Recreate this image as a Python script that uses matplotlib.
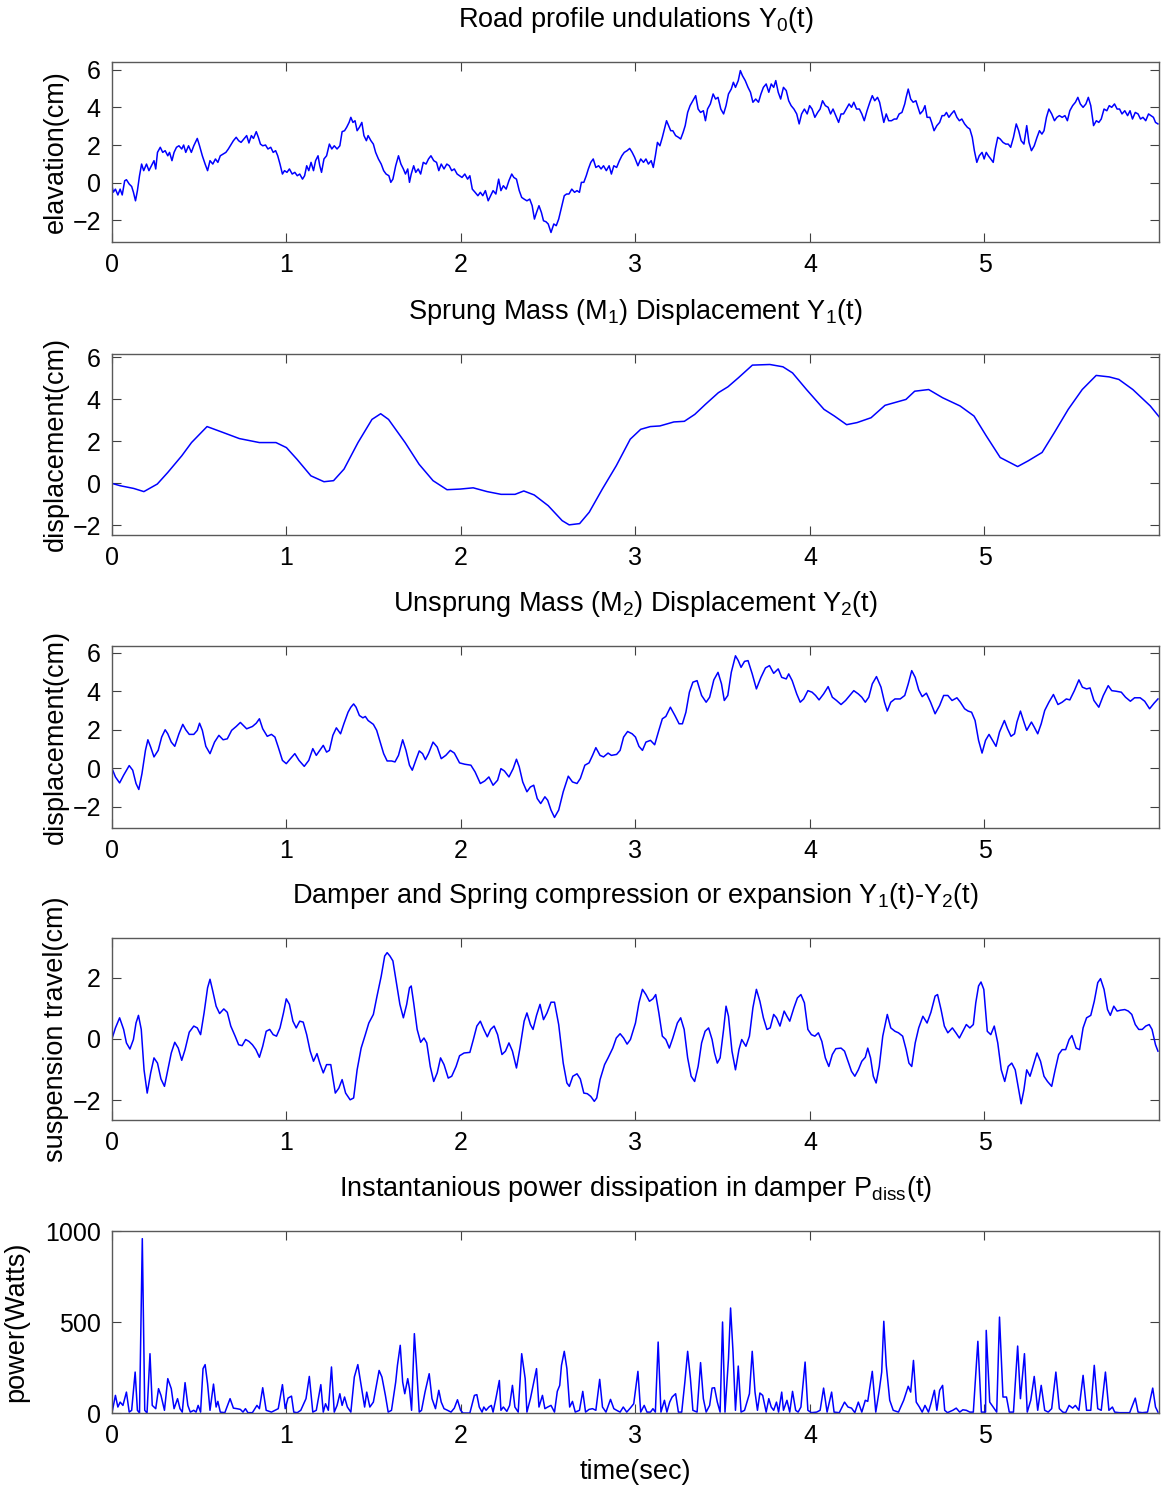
import matplotlib
matplotlib.use('Agg')
import matplotlib.pyplot as plt

# ---- data (time in s) ----
road = [(0.000,-0.16),(0.008,-0.50),(0.020,-0.34),(0.034,-0.65),(0.047,-0.34),(0.059,-0.65),(0.073,0.10),(0.083,0.16),(0.099,-0.07),(0.113,-0.20),
        (0.123,-0.50),(0.135,-0.96),(0.146,-0.42),(0.158,0.37),(0.170,0.99),(0.182,0.64),(0.198,0.99),(0.212,0.64),(0.226,0.90),(0.241,1.17),
        (0.251,0.73),(0.261,1.61),(0.277,1.88),(0.291,1.61),(0.305,1.70),(0.320,1.43),(0.330,1.61),(0.344,1.17),(0.356,1.61),(0.370,1.88),
        (0.384,1.96),(0.400,1.79),(0.411,2.00),(0.423,1.61),(0.439,1.96),(0.455,1.61),(0.469,1.96),(0.489,2.35),(0.502,1.96),(0.518,1.43),
        (0.534,0.99),(0.548,0.64),(0.562,1.17),(0.578,0.99),(0.593,1.26),(0.607,1.08),(0.621,1.43),(0.637,1.52),(0.653,1.61),(0.667,1.79),
        (0.681,2.00),(0.696,2.23),(0.712,2.41),(0.726,2.23),(0.740,2.14),(0.756,2.32),(0.772,2.50),(0.785,2.11),(0.799,2.50),(0.811,2.35),
        (0.827,2.71),(0.839,2.41),(0.851,2.05),(0.864,1.96),(0.880,2.00),(0.894,1.79),(0.910,1.88),(0.924,1.61),(0.938,1.70),(0.950,1.43),
        (0.963,0.99),(0.977,0.46),(0.989,0.64),(1.003,0.55),(1.017,0.73),(1.033,0.46),(1.048,0.55),(1.062,0.37),(1.076,0.46),(1.092,0.19),
        (1.104,0.37),(1.116,0.90),(1.128,0.64),(1.141,1.08),(1.155,0.64),(1.167,1.17),(1.181,1.43),(1.191,0.90),(1.201,0.55),(1.215,1.26),
        (1.230,1.43),(1.246,2.05),(1.260,1.79),(1.274,1.96),(1.290,1.79),(1.306,1.96),(1.319,2.71),(1.333,2.76),(1.345,2.94),(1.359,3.20),
        (1.369,3.47),(1.381,3.20),(1.393,3.29),(1.405,2.76),(1.418,2.94),(1.432,3.20),(1.444,2.50),(1.458,2.23),(1.468,2.50),(1.484,2.23),
        (1.498,2.05),(1.511,1.61),(1.527,1.26),(1.543,0.99),(1.557,0.64),(1.571,0.46),(1.587,0.37),(1.598,0.02),(1.610,0.19),(1.626,0.90),
        (1.642,1.43),(1.656,0.99),(1.670,0.73),(1.682,0.46),(1.695,0.73),(1.705,0.02),(1.715,0.46),(1.729,0.90),(1.741,0.55),(1.755,0.73),
        (1.769,0.46),(1.784,1.08),(1.800,0.99),(1.814,1.26),(1.828,1.43),(1.844,1.17),(1.860,1.08),(1.873,0.64),(1.887,0.99),(1.903,0.73),
        (1.919,0.99),(1.933,0.90),(1.947,0.64),(1.962,0.73),(1.978,0.46),(1.992,0.37),(2.006,0.28),(2.022,0.46),(2.038,0.19),(2.051,0.37),
        (2.065,-0.34),(2.081,-0.51),(2.097,-0.69),(2.111,-0.51),(2.125,-0.69),(2.140,-0.42),(2.156,-0.96),(2.170,-0.69),(2.184,-0.42),(2.200,-0.60),
        (2.216,0.19),(2.229,-0.42),(2.243,-0.16),(2.259,-0.34),(2.275,0.11),(2.291,0.46),(2.303,0.28),(2.318,0.19),(2.334,-0.42),(2.348,-0.78),
        (2.362,-0.87),(2.378,-0.96),(2.394,-0.87),(2.408,-1.22),(2.421,-1.93),(2.433,-1.58),(2.447,-1.22),(2.461,-1.58),(2.473,-2.02),(2.487,-2.07),
        (2.500,-2.19),(2.516,-2.64),(2.532,-2.19),(2.546,-2.28),(2.560,-1.93),(2.576,-1.31),(2.592,-0.69),(2.605,-0.60),(2.619,-0.60),(2.635,-0.34),
        (2.651,-0.51),(2.665,-0.42),(2.679,-0.51),(2.690,0.02),(2.704,0.02),(2.718,0.37),(2.730,0.73),(2.744,1.08),(2.758,1.26),(2.773,0.81),
        (2.789,0.90),(2.803,0.73),(2.817,0.90),(2.833,0.64),(2.849,0.90),(2.862,0.46),(2.876,0.90),(2.892,0.81),(2.908,1.17),(2.922,1.43),
        (2.936,1.61),(2.952,1.70),(2.967,1.82),(2.981,1.61),(2.995,1.35),
        (3.014,0.90),(3.030,1.26),(3.046,1.08),(3.060,1.26),(3.074,0.99),(3.090,1.17),(3.102,0.81),(3.114,1.43),(3.126,2.14),(3.140,1.96),
        (3.154,2.41),(3.166,2.85),(3.178,3.29),(3.190,3.03),(3.202,2.76),(3.214,2.76),(3.230,2.50),(3.246,2.41),(3.259,2.32),(3.273,2.67),
        (3.285,3.03),(3.299,3.73),(3.313,4.09),(3.329,4.35),(3.345,4.62),(3.359,3.91),(3.373,3.73),(3.389,3.82),(3.401,3.29),(3.413,3.91),
        (3.429,4.18),(3.445,4.71),(3.459,4.44),(3.473,4.53),(3.489,3.91),(3.505,3.65),(3.519,4.09),(3.533,4.71),(3.549,4.97),(3.561,5.33),
        (3.573,5.06),(3.589,5.42),(3.601,5.95),(3.613,5.68),(3.629,5.42),(3.645,5.06),(3.659,4.80),(3.673,4.27),(3.689,4.44),(3.705,4.27),
        (3.719,4.71),(3.733,5.06),(3.749,5.24),(3.764,4.80),(3.778,5.24),(3.792,5.06),(3.804,5.42),(3.818,4.80),(3.832,4.44),(3.848,5.06),
        (3.864,4.89),(3.878,4.35),(3.892,4.09),(3.908,3.91),(3.924,3.65),(3.938,3.12),(3.952,3.65),(3.968,3.91),(3.984,3.65),(3.998,4.09),
        (4.012,3.91),(4.028,3.47),(4.044,3.73),(4.058,3.91),(4.072,4.35),(4.088,4.09),(4.104,4.00),(4.118,3.65),(4.132,3.91),(4.148,3.56),
        (4.164,3.20),(4.178,3.65),(4.192,3.65),(4.208,3.91),(4.224,4.18),(4.238,4.00),(4.251,4.27),(4.267,3.91),(4.283,3.91),(4.297,3.65),
        (4.311,3.29),(4.327,3.82),(4.343,4.27),(4.357,4.62),(4.371,4.35),(4.387,4.53),(4.399,4.27),(4.411,3.73),(4.423,3.20),(4.437,3.65),
        (4.451,3.29),(4.467,3.29),(4.483,3.38),(4.497,3.38),(4.511,3.65),(4.527,3.73),(4.543,4.18),(4.551,4.53),(4.563,4.97),(4.577,4.44),
        (4.591,4.27),(4.607,4.35),(4.619,4.00),(4.631,3.65),(4.647,3.82),(4.659,4.09),(4.671,3.47),(4.687,3.47),(4.697,3.20),(4.711,2.76),
        (4.727,3.03),(4.743,3.20),(4.757,3.56),(4.770,3.56),(4.782,3.73),(4.796,3.47),(4.810,3.65),(4.826,3.82),(4.842,3.47),(4.856,3.29),
        (4.870,3.38),(4.886,3.12),(4.902,2.94),(4.916,2.85),(4.930,2.41),(4.942,1.70),(4.956,1.08),(4.970,1.43),(4.986,1.61),(4.998,1.26),
        (5.010,1.61),(5.022,1.43),(5.036,1.26),(5.050,1.08),(5.062,1.79),(5.076,2.41),(5.090,2.32),(5.106,2.14),(5.122,2.05),(5.136,2.05),
        (5.150,1.88),(5.166,2.41),(5.182,3.12),(5.196,2.76),(5.210,2.23),(5.226,2.05),(5.242,3.03),(5.255,2.14),(5.269,1.70),(5.285,1.96),
        (5.301,2.41),(5.315,2.76),(5.329,2.58),(5.341,2.76),(5.355,3.47),(5.369,3.91),(5.385,3.65),(5.401,3.29),(5.415,3.47),(5.429,3.56),
        (5.445,3.47),(5.461,3.56),(5.475,3.29),(5.489,3.82),(5.505,4.09),(5.521,4.27),(5.535,4.53),(5.549,4.18),(5.565,4.00),(5.581,4.18),
        (5.595,4.53),(5.609,4.09),(5.625,3.03),(5.641,3.29),(5.655,3.20),(5.669,3.38),(5.685,3.91),(5.701,3.82),(5.715,4.09),(5.729,4.00),
        (5.745,4.18),(5.760,3.91),(5.774,3.91),(5.788,3.65),(5.804,3.82),(5.820,3.56),(5.834,3.82),(5.848,3.38),(5.864,3.73),(5.880,3.65),
        (5.894,3.38),(5.908,3.47),(5.924,3.29),(5.940,3.65),(5.954,3.56),(5.968,3.47),(5.980,3.20),(5.994,3.12)]

sprung = [(0.000,0.00),(0.047,-0.11),(0.125,-0.24),(0.183,-0.39),(0.260,-0.03),(0.320,0.52),(0.400,1.31),(0.456,1.94),(0.545,2.70),(0.630,2.44),
          (0.730,2.13),(0.845,1.94),(0.940,1.94),(1.000,1.70),(1.060,1.15),(1.140,0.36),(1.215,0.08),(1.270,0.13),(1.330,0.68),(1.410,1.94),
          (1.490,3.04),(1.540,3.31),(1.585,3.04),(1.680,1.94),(1.760,0.91),(1.840,0.13),(1.920,-0.30),(1.995,-0.27),(2.070,-0.21),(2.150,-0.39),
          (2.230,-0.52),(2.310,-0.52),(2.360,-0.36),(2.420,-0.55),(2.500,-1.06),(2.580,-1.77),(2.620,-1.97),(2.680,-1.91),(2.735,-1.37),(2.810,-0.27),
          (2.890,0.84),(2.970,2.10),(3.030,2.57),(3.085,2.70),(3.140,2.73),(3.220,2.92),(3.280,2.95),(3.340,3.28),(3.400,3.75),(3.475,4.31),
          (3.530,4.59),(3.590,5.02),(3.670,5.62),(3.770,5.65),(3.845,5.54),(3.900,5.25),(3.980,4.46),(4.080,3.52),(4.140,3.20),(4.210,2.79),
          (4.270,2.89),(4.350,3.12),(4.430,3.71),(4.550,3.99),(4.600,4.38),(4.680,4.46),(4.760,4.07),(4.860,3.68),(4.940,3.20),(5.010,2.26),
          (5.090,1.23),(5.190,0.80),(5.250,1.07),(5.330,1.47),(5.400,2.41),(5.480,3.52),(5.560,4.46),(5.640,5.13),(5.715,5.06),(5.770,4.94),
          (5.850,4.46),(5.950,3.68),(6.000,3.17)]

unsprung = [(0.000,0.00),(0.020,-0.45),(0.044,-0.76),(0.067,-0.36),(0.099,0.14),(0.119,-0.10),(0.138,-0.79),(0.154,-1.10),(0.172,-0.28),(0.192,0.93),
            (0.206,1.48),(0.222,1.10),(0.241,0.59),(0.265,0.93),(0.285,1.62),(0.305,2.00),(0.320,1.79),(0.340,1.36),(0.360,1.14),(0.384,1.79),
            (0.406,2.28),(0.423,2.00),(0.443,1.76),(0.469,1.76),(0.489,1.97),(0.502,2.34),(0.518,1.97),(0.538,1.14),(0.562,0.76),(0.588,1.36),
            (0.613,1.71),(0.637,1.48),(0.661,1.53),(0.686,1.97),(0.712,2.17),(0.736,2.38),(0.772,2.05),(0.805,2.17),(0.827,2.34),(0.845,2.57),
            (0.864,2.05),(0.890,1.66),(0.914,1.76),(0.934,1.62),(0.953,1.10),(0.977,0.41),(0.999,0.24),(1.023,0.50),(1.048,0.76),(1.072,0.41),
            (1.102,0.10),(1.128,0.41),(1.151,1.02),(1.171,0.67),(1.191,0.93),(1.211,1.19),(1.230,0.84),(1.246,0.93),(1.266,1.71),(1.286,2.10),
            (1.310,1.79),(1.329,2.31),(1.353,2.91),(1.369,3.17),(1.385,3.34),(1.399,3.17),(1.418,2.74),(1.438,2.62),(1.452,2.69),(1.468,2.48),
            (1.498,2.28),(1.517,1.97),(1.537,1.36),(1.557,0.76),(1.577,0.38),(1.602,0.38),(1.622,0.33),(1.642,0.67),(1.666,1.48),(1.685,0.93),
            (1.705,0.16),(1.721,-0.10),(1.741,0.41),(1.761,0.90),(1.780,0.76),(1.796,0.45),(1.814,0.76),(1.840,1.36),(1.864,1.10),(1.887,0.50),
            (1.913,0.67),(1.939,0.93),(1.962,0.79),(1.992,0.28),(2.022,0.21),(2.057,0.16),(2.081,-0.19),(2.111,-0.79),(2.136,-0.66),(2.160,-0.45),
            (2.184,-0.88),(2.210,-0.62),(2.229,-0.02),(2.249,-0.14),(2.275,-0.45),(2.299,-0.02),(2.318,0.47),(2.334,0.07),(2.354,-0.71),(2.378,-1.22),
            (2.398,-0.97),(2.417,-0.88),(2.437,-1.57),(2.457,-1.83),(2.481,-1.48),(2.497,-1.66),(2.516,-2.17),(2.536,-2.55),(2.560,-2.17),(2.586,-1.22),
            (2.615,-0.41),(2.639,-0.71),(2.665,-0.79),(2.684,-0.53),(2.710,0.16),(2.734,0.28),(2.754,0.67),(2.773,1.07),(2.797,0.67),(2.817,0.59),
            (2.843,0.79),(2.862,0.67),(2.892,0.72),(2.912,0.93),(2.932,1.62),(2.955,1.91),(2.981,1.79),(3.000,1.62),(3.020,1.14),(3.040,0.93),
            (3.060,1.36),(3.086,1.45),(3.110,1.22),(3.134,1.97),(3.154,2.57),(3.174,2.69),(3.200,3.17),(3.226,2.74),(3.250,2.31),(3.269,2.31),
            (3.289,2.91),(3.309,3.95),(3.329,4.47),(3.353,4.55),(3.379,3.78),(3.405,3.43),(3.425,3.69),(3.449,4.59),(3.473,4.98),(3.493,4.38),
            (3.509,3.52),(3.529,3.78),(3.549,4.98),(3.573,5.84),(3.589,5.59),(3.605,5.24),(3.625,5.55),(3.645,5.59),(3.669,4.90),(3.693,4.12),
            (3.719,4.72),(3.745,5.21),(3.768,5.33),(3.792,4.93),(3.818,5.16),(3.838,4.72),(3.864,4.64),(3.878,4.90),(3.898,4.55),(3.924,3.86),
            (3.944,3.43),(3.964,3.60),(3.988,4.03),(4.012,3.95),(4.032,3.78),(4.052,3.55),(4.078,3.86),(4.104,4.24),(4.128,3.69),(4.152,3.52),
            (4.178,3.31),(4.204,3.52),(4.228,3.78),(4.251,4.03),(4.277,3.86),(4.297,3.69),(4.317,3.43),(4.337,3.69),(4.357,4.38),(4.381,4.76),
            (4.407,4.21),(4.427,3.43),(4.443,2.97),(4.463,3.43),(4.487,3.60),(4.517,3.60),(4.543,3.78),(4.563,4.38),(4.583,5.07),(4.603,4.72),
            (4.623,4.07),(4.643,3.72),(4.667,3.90),(4.691,3.43),(4.717,2.83),(4.743,3.26),(4.766,3.78),(4.790,3.78),(4.814,3.52),(4.842,3.66),
            (4.862,3.43),(4.886,3.09),(4.906,2.97),(4.926,2.91),(4.946,2.48),(4.966,1.45),(4.986,0.79),(5.006,1.45),(5.026,1.76),(5.046,1.45),
            (5.066,1.14),(5.086,1.88),(5.114,2.48),(5.132,2.05),(5.152,1.66),(5.172,1.79),(5.186,2.40),(5.206,2.97),(5.226,2.40),(5.242,1.97),
            (5.269,2.40),(5.285,2.14),(5.305,1.79),(5.325,2.31),(5.345,3.00),(5.369,3.43),(5.395,3.83),(5.421,3.31),(5.445,3.43),(5.469,3.60),
            (5.489,3.55),(5.515,4.03),(5.541,4.59),(5.561,4.21),(5.585,4.12),(5.605,4.17),(5.627,3.52),(5.655,3.17),(5.681,3.78),(5.709,4.29),
            (5.729,4.03),(5.754,4.00),(5.784,3.95),(5.808,3.69),(5.836,3.48),(5.860,3.66),(5.892,3.66),(5.918,3.48),(5.946,3.09),(5.972,3.38),
            (5.994,3.60)]

travel = [(0.000,0.00),(0.020,0.36),(0.044,0.69),(0.067,0.31),(0.083,-0.13),(0.103,-0.33),(0.123,-0.02),(0.138,0.52),(0.152,0.77),(0.168,0.31),
          (0.184,-1.01),(0.202,-1.77),(0.222,-1.11),(0.241,-0.62),(0.261,-0.79),(0.281,-1.31),(0.301,-1.55),(0.320,-1.01),(0.340,-0.46),(0.360,-0.11),
          (0.380,-0.30),(0.400,-0.70),(0.419,-0.35),(0.443,0.22),(0.469,0.42),(0.489,0.36),(0.508,0.14),(0.528,0.85),(0.548,1.67),(0.562,1.95),
          (0.578,1.56),(0.597,1.07),(0.617,0.83),(0.641,0.98),(0.661,0.87),(0.681,0.42),(0.706,0.09),(0.726,-0.19),(0.746,-0.22),(0.766,-0.02),
          (0.785,-0.08),(0.805,-0.19),(0.825,-0.35),(0.845,-0.60),(0.864,-0.24),(0.884,0.25),(0.904,0.31),(0.924,0.14),(0.943,0.09),(0.963,0.36),
          (0.983,0.85),(0.999,1.31),(1.017,1.13),(1.037,0.58),(1.056,0.36),(1.076,0.58),(1.096,0.55),(1.116,0.14),(1.136,-0.40),(1.155,-0.73),
          (1.175,-0.48),(1.191,-0.79),(1.211,-1.11),(1.230,-0.84),(1.254,-0.84),(1.280,-1.77),(1.300,-1.61),(1.319,-1.33),(1.339,-1.77),(1.365,-1.99),
          (1.385,-1.93),(1.405,-1.01),(1.428,-0.30),(1.452,0.14),(1.472,0.52),(1.498,0.80),(1.519,1.40),(1.543,2.05),(1.563,2.71),(1.577,2.82),
          (1.593,2.71),(1.610,2.55),(1.630,1.84),(1.650,1.13),(1.670,0.69),(1.689,1.13),(1.705,1.67),(1.715,1.73),(1.729,1.18),(1.749,0.31),
          (1.769,-0.11),(1.788,0.03),(1.804,-0.13),(1.824,-0.90),(1.844,-1.39),(1.864,-1.11),(1.883,-0.62),(1.903,-0.84),(1.927,-1.28),(1.947,-1.22),
          (1.972,-0.90),(1.992,-0.55),(2.018,-0.46),(2.051,-0.44),(2.071,-0.02),(2.091,0.42),(2.111,0.58),(2.131,0.31),(2.151,0.07),(2.170,0.31),
          (2.190,0.42),(2.210,0.14),(2.235,-0.51),(2.255,-0.40),(2.275,-0.13),(2.295,-0.40),(2.318,-0.95),(2.338,-0.30),(2.362,0.58),(2.378,0.85),
          (2.398,0.47),(2.413,0.31),(2.433,0.77),(2.453,1.13),(2.473,0.63),(2.493,0.85),(2.516,1.20),(2.536,1.20),(2.560,0.47),(2.586,-0.79),
          (2.607,-1.44),(2.621,-1.55),(2.641,-1.22),(2.665,-1.14),(2.684,-1.31),(2.704,-1.77),(2.724,-1.79),(2.744,-1.88),(2.764,-2.04),(2.778,-1.93),
          (2.797,-1.33),(2.823,-0.84),(2.843,-0.62),(2.870,-0.30),(2.890,0.03),(2.912,0.17),(2.932,0.03),(2.952,-0.17),(2.971,-0.02),(3.000,0.52),
          (3.020,1.18),(3.040,1.62),(3.060,1.45),(3.080,1.23),(3.100,1.31),(3.116,1.45),(3.134,0.85),(3.154,0.09),(3.174,-0.02),(3.194,-0.30),
          (3.214,0.03),(3.240,0.52),(3.259,0.69),(3.279,0.31),(3.299,-0.62),(3.319,-1.22),(3.339,-1.39),(3.359,-0.90),(3.379,-0.13),(3.399,0.25),
          (3.419,0.36),(3.439,-0.02),(3.453,-0.46),(3.469,-0.79),(3.485,-0.62),(3.505,0.31),(3.519,1.07),(3.533,0.74),(3.553,-0.40),(3.573,-1.01),
          (3.593,-0.35),(3.609,-0.02),(3.633,-0.24),(3.653,0.09),(3.673,1.02),(3.693,1.62),(3.713,1.23),(3.733,0.69),(3.753,0.31),(3.772,0.36),
          (3.792,0.80),(3.808,0.69),(3.828,0.42),(3.852,0.91),(3.868,0.74),(3.884,0.58),(3.908,1.02),(3.928,1.34),(3.948,1.45),(3.968,1.18),
          (3.988,0.31),(4.008,0.14),(4.028,0.09),(4.048,0.20),(4.068,-0.08),(4.088,-0.62),(4.108,-0.90),(4.128,-0.51),(4.148,-0.32),(4.178,-0.30),
          (4.198,-0.40),(4.218,-0.73),(4.238,-1.06),(4.257,-1.22),(4.277,-1.01),(4.297,-0.73),(4.317,-0.60),(4.331,-0.30),(4.347,-0.62),(4.363,-1.22),
          (4.379,-1.44),(4.397,-0.90),(4.417,0.09),(4.443,0.80),(4.463,0.36),(4.487,0.25),(4.507,0.20),(4.531,0.09),(4.551,-0.35),(4.567,-0.79),
          (4.583,-0.90),(4.603,-0.13),(4.623,0.36),(4.647,0.74),(4.671,0.52),(4.693,0.87),(4.717,1.40),(4.731,1.45),(4.751,0.96),(4.770,0.42),
          (4.790,0.20),(4.816,0.36),(4.836,0.20),(4.856,0.03),(4.876,0.25),(4.896,0.47),(4.916,0.36),(4.936,0.47),(4.950,1.18),(4.966,1.73),
          (4.980,1.86),(4.996,1.62),(5.016,0.25),(5.036,0.14),(5.056,0.42),(5.076,-0.13),(5.096,-1.01),(5.116,-1.39),(5.136,-0.90),(5.156,-0.79),
          (5.176,-1.01),(5.196,-1.66),(5.210,-2.12),(5.226,-1.66),(5.242,-1.01),(5.261,-1.22),(5.281,-0.84),(5.301,-0.46),(5.321,-0.73),(5.341,-1.22),
          (5.361,-1.39),(5.385,-1.55),(5.405,-1.01),(5.425,-0.51),(5.445,-0.35),(5.465,-0.35),(5.485,-0.02),(5.501,0.11),(5.525,-0.30),(5.545,-0.35),
          (5.565,0.36),(5.585,0.69),(5.609,0.77),(5.629,1.23),(5.649,1.84),(5.665,1.97),(5.685,1.62),(5.705,0.96),(5.721,0.77),(5.741,1.07),
          (5.760,0.91),(5.780,0.94),(5.804,0.96),(5.824,0.91),(5.844,0.80),(5.864,0.47),(5.884,0.31),(5.904,0.31),(5.924,0.42),(5.944,0.47),
          (5.960,0.31),(5.980,-0.19),(5.994,-0.40)]

power = [(0.000,0),(0.020,97),(0.034,33),(0.047,60),(0.063,42),(0.083,115),(0.099,5),(0.113,15),(0.133,225),(0.146,15),
         (0.158,0),(0.174,958),(0.188,15),(0.201,0),(0.218,326),(0.231,42),(0.251,24),(0.267,134),(0.281,97),(0.301,15),
         (0.320,189),(0.340,134),(0.356,24),(0.376,79),(0.390,24),(0.403,5),(0.419,167),(0.435,42),(0.449,5),(0.469,15),
         (0.482,5),(0.494,42),(0.508,5),(0.522,244),(0.534,266),(0.548,161),(0.562,15),(0.582,159),(0.597,33),(0.607,64),
         (0.621,5),(0.647,2),(0.677,79),(0.696,27),(0.716,24),(0.736,20),(0.751,5),(0.765,24),(0.779,2),(0.805,2),
         (0.831,42),(0.845,24),(0.864,139),(0.884,15),(0.914,5),(0.934,15),(0.953,24),(0.977,156),(0.993,24),(1.009,82),
         (1.029,93),(1.042,5),(1.062,2),(1.082,15),(1.112,79),(1.131,201),(1.151,5),(1.171,15),(1.197,156),(1.211,5),
         (1.224,51),(1.240,15),(1.258,253),(1.274,5),(1.290,42),(1.306,106),(1.319,42),(1.333,88),(1.349,33),(1.369,5),
         (1.389,198),(1.409,266),(1.428,152),(1.448,33),(1.460,115),(1.478,33),(1.498,60),(1.517,161),(1.531,234),(1.547,198),
         (1.567,97),(1.583,5),(1.602,15),(1.626,170),(1.636,262),(1.652,372),(1.666,170),(1.678,106),(1.695,189),(1.705,134),
         (1.717,15),(1.733,436),(1.745,262),(1.761,5),(1.774,15),(1.794,115),(1.818,216),(1.834,79),(1.854,24),(1.873,125),
         (1.887,60),(1.903,24),(1.923,15),(1.943,5),(1.962,27),(1.980,73),(1.998,15),(2.012,0),(2.051,0),(2.077,97),
         (2.091,101),(2.105,33),(2.121,5),(2.131,33),(2.144,15),(2.160,33),(2.174,42),(2.184,5),(2.200,79),(2.220,179),
         (2.229,15),(2.243,33),(2.263,9),(2.279,42),(2.295,152),(2.309,33),(2.328,5),(2.348,326),(2.368,189),(2.378,5),
         (2.398,79),(2.433,244),(2.447,33),(2.467,97),(2.481,24),(2.497,33),(2.516,42),(2.536,5),(2.552,119),(2.566,152),
         (2.576,262),(2.592,339),(2.607,244),(2.623,33),(2.639,64),(2.655,5),(2.679,15),(2.698,119),(2.714,5),(2.734,20),
         (2.754,24),(2.773,15),(2.795,185),(2.811,33),(2.831,5),(2.857,75),(2.876,24),(2.892,15),(2.912,5),(2.930,33),
         (2.950,5),(2.970,27),(2.990,51),(3.014,229),(3.030,5),(3.050,42),(3.066,5),(3.086,5),(3.100,24),(3.114,5),
         (3.130,390),(3.146,5),(3.166,70),(3.180,5),(3.196,60),(3.210,88),(3.230,106),(3.246,5),(3.265,5),(3.283,170),
         (3.299,339),(3.315,189),(3.329,15),(3.353,5),(3.373,277),(3.389,79),(3.405,5),(3.425,42),(3.439,137),(3.453,139),
         (3.469,60),(3.485,5),(3.499,500),(3.513,5),(3.533,299),(3.545,577),(3.559,335),(3.573,15),(3.589,258),(3.605,5),
         (3.625,15),(3.653,106),(3.669,339),(3.685,115),(3.699,15),(3.713,110),(3.729,97),(3.749,5),(3.764,79),(3.778,33),
         (3.792,15),(3.808,60),(3.820,5),(3.838,115),(3.848,15),(3.868,70),(3.884,5),(3.900,119),(3.918,15),(3.932,5),
         (3.948,33),(3.972,280),(3.988,15),(4.008,2),(4.038,5),(4.058,15),(4.078,137),(4.098,5),(4.124,115),(4.138,5),
         (4.168,2),(4.198,60),(4.218,33),(4.238,27),(4.257,2),(4.277,60),(4.297,5),(4.317,70),(4.331,64),(4.357,229),
         (4.377,5),(4.397,125),(4.411,225),(4.423,504),(4.437,262),(4.457,70),(4.477,15),(4.507,5),(4.537,70),(4.563,147),
         (4.577,115),(4.593,289),(4.609,60),(4.627,33),(4.643,5),(4.659,42),(4.679,5),(4.693,51),(4.713,125),(4.727,15),
         (4.743,125),(4.760,152),(4.772,15),(4.788,2),(4.818,15),(4.838,27),(4.858,5),(4.876,18),(4.896,15),(4.916,5),
         (4.936,5),(4.962,394),(4.982,5),(5.006,5),(5.010,454),(5.030,60),(5.050,33),(5.070,5),(5.086,527),(5.106,88),
         (5.126,88),(5.142,5),(5.166,5),(5.190,368),(5.206,79),(5.229,326),(5.245,5),(5.265,70),(5.285,201),(5.305,15),
         (5.325,152),(5.345,15),(5.365,5),(5.385,24),(5.409,225),(5.429,24),(5.449,5),(5.465,2),(5.485,42),(5.505,27),
         (5.521,42),(5.541,15),(5.565,207),(5.585,15),(5.609,15),(5.629,262),(5.649,24),(5.669,15),(5.693,225),(5.713,15),
         (5.733,33),(5.746,5),(5.772,2),(5.802,2),(5.832,2),(5.864,82),(5.880,5),(5.904,2),(5.934,5),(5.964,137),
         (5.980,33),(5.994,5)]

panels = [
    (road, r'Road profile undulations $\mathrm{Y}_0$(t)', 'elavation(cm)', (-3.15, 6.4), [-2, 0, 2, 4, 6], 2.5),
    (sprung, r'Sprung Mass (M$_1$) Displacement Y$_1$(t)', 'displacement(cm)', (-2.45, 6.15), [-2, 0, 2, 4, 6], 2.5),
    (unsprung, r'Unsprung Mass (M$_2$) Displacement Y$_2$(t)', 'displacement(cm)', (-3.1, 6.35), [-2, 0, 2, 4, 6], 2.5),
    (travel, r'Damper and Spring compression or expansion Y$_1$(t)-Y$_2$(t)', 'suspension travel(cm)', (-2.65, 3.3), [-2, 0, 2], 2.5),
    (power, r'Instantanious power dissipation in damper P$_{\mathrm{diss}}$(t)', 'power(Watts)', (0, 1000), [0, 500, 1000], 11),
]

plt.rcParams['font.family'] = 'Liberation Sans'
plt.rcParams['mathtext.fontset'] = 'custom'
plt.rcParams['mathtext.rm'] = 'Liberation Sans'
plt.rcParams['mathtext.it'] = 'Liberation Sans:italic'
plt.rcParams['font.size'] = 18

fig = plt.figure(figsize=(11.66, 14.86), dpi=100)

# axes boxes in figure fraction (left, bottom, width, height)
boxes = [(0.096, 0.8371, 0.898, 0.1211),
         (0.096, 0.6400, 0.898, 0.1218),
         (0.096, 0.4428, 0.898, 0.1225),
         (0.096, 0.2463, 0.898, 0.1225),
         (0.096, 0.0491, 0.898, 0.1225)]

for box, (data, title, ylab, ylim, yt, lpad) in zip(boxes, panels):
    ax = fig.add_axes(box)
    t = [p[0] for p in data]
    y = [p[1] for p in data]
    ax.plot(t, y, color='#0000ff', lw=1.1)
    ax.set_xlim(0, 6)
    ax.set_ylim(*ylim)
    ax.set_xticks(range(6))
    ax.set_yticks(yt)
    ax.tick_params(direction='in', top=True, right=True, length=6.5, width=0.8,
                   color='0.25', pad=8, labelsize=18)
    for s in ax.spines.values():
        s.set_color('0.35')
        s.set_linewidth(1.0)
    ax.set_title(title, pad=25, fontsize=19.5)
    ax.set_ylabel(ylab, fontsize=19.5, labelpad=lpad)

ax.set_xlabel('time(sec)', fontsize=19.5, labelpad=7.5)

fig.savefig('out.png')
